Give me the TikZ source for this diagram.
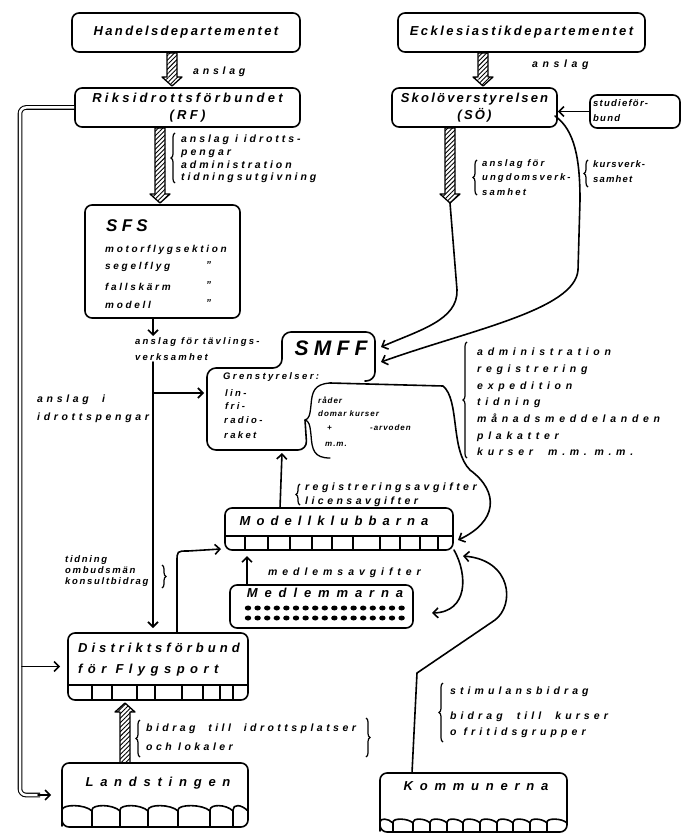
\documentclass[tikz,border=0pt]{standalone}
\usepackage{fontspec}
\setmainfont{Liberation Sans}
\usetikzlibrary{arrows.meta,calc,patterns,patterns.meta,decorations.pathreplacing}
\newcommand{\hand}[3]{\fontsize{#1}{#2}\selectfont\bfseries\itshape\addfontfeatures{LetterSpace=#3}}
\newcommand{\hatcharrow}[2]{%
  \coordinate (ha) at (#1); \coordinate (hb) at (#2);
  \coordinate (hh) at ($(hb)!9pt!(ha)$);
  \draw[hatch] ($(ha)!5pt!90:(hb)$) -- ($(hh)!5pt!90:(hb)$) -- ($(hh)!10pt!90:(hb)$) -- (hb)
    -- ($(hh)!10pt!-90:(hb)$) -- ($(hh)!5pt!-90:(hb)$) -- ($(ha)!5pt!-90:(hb)$) -- cycle;}
\tikzset{
  ln/.style={line width=1.6pt, line cap=round, line join=round},
  box/.style={ln, draw, rounded corners=7pt, inner sep=0pt},
  arr/.style={ln, -{Straight Barb[length=5pt,width=10pt]}},
  hatch/.style={line width=1.3pt, line join=round,
    pattern={Lines[angle=45,distance=3.2pt,line width=0.9pt]}},
  lbl/.style n args={3}{anchor=west, inner sep=0pt, align=left, font=\hand{#1}{#2}{#3}},
  ttl/.style={inner sep=0pt, align=center, font=\hand{13}{17}{#1}},
  ttl/.default=18,
  brc/.style={line width=1.2pt, decorate, decoration={brace, amplitude=4pt}},
  dbl/.style={line width=1.1pt, double, double distance=2.5pt, rounded corners=6pt},
}
\begin{document}
\begin{tikzpicture}[x=1pt,y=-1pt]
\useasboundingbox (0,0) rectangle (687,834);

% ---------- boxes ----------
\node[box, ttl=18, minimum width=228, minimum height=39] (handels) at (186,32.5) {Handelsdepartementet};
\node[box, ttl=25, minimum width=225, minimum height=39] (rf) at (187.5,107.5) {Riksidrottsförbundet\\(RF)};
\node[box, ttl=19, minimum width=247, minimum height=39] (eccl) at (521.5,32.5) {Ecklesiastikdepartementet};
\node[box, ttl=17, minimum width=165, minimum height=39] (sb) at (474.5,107.5) {Skolöverstyrelsen\\(SÖ)};
\node[box, minimum width=90, minimum height=33] (studie) at (635,111.5) {};
\node[lbl={9.5}{15}{13}] (studietxt) at (593,111) {studieför-\\bund};

\node[box, minimum width=155, minimum height=113] (sfs) at (162.5,261.5) {};
\node[lbl={17}{20}{25}] (sfst) at (106,226) {SFS};
\node[lbl={10}{12}{27}] (s1) at (105,250) {motorflygsektion};
\node[lbl={10}{12}{27}] (s2) at (105,267) {segelflyg};
\node[lbl={10}{12}{27}] (s3) at (105,287) {fallskärm};
\node[lbl={10}{12}{27}] (s4) at (105,305) {modell};
\node[lbl={10}{12}{0}] (d2) at (206,265) {"};
\node[lbl={10}{12}{0}] (d3) at (206,285) {"};
\node[lbl={10}{12}{0}] (d4) at (206,303) {"};

% SMFF outline
\draw[ln, rounded corners=9pt] (305,420) -- (307,450) -- (207,450) -- (207,368) -- (282,368)
  -- (282,332) -- (375,332) -- (375,381) -- (365,381);
\node[inner sep=0pt, font=\hand{21}{24}{25}] (smff) at (331,348) {SMFF};
\node[lbl={9.5}{11}{25}] (gren) at (223,377) {Grenstyrelser:};
\node[lbl={9.5}{11}{25}] (g1) at (225,393) {lin-};
\node[lbl={9.5}{11}{25}] (g2) at (225,406) {fri-};
\node[lbl={9.5}{11}{25}] (g3) at (224,420) {radio-};
\node[lbl={9.5}{11}{25}] (g4) at (224,435) {raket};
\draw[ln, line width=1.3pt] (330,383) .. controls (314,384) and (312,392) .. (311,405)
  .. controls (310,415) and (309,419) .. (305,420) .. controls (309,421) and (310,425) .. (311,435)
  .. controls (312,450) and (314,458) .. (330,458);
\node[lbl={8}{9}{12}] (r1) at (318,400) {råder};
\node[lbl={8}{9}{12}] (r2) at (318,414) {domar kurser};
\node[lbl={8}{9}{12}] (r3) at (327,428) {+};
\node[lbl={8}{9}{12}] (r4) at (370,428) {-arvoden};
\node[lbl={8}{9}{12}] (r5) at (325,444) {m.m.};

\node[box, minimum width=228, minimum height=42] (modell) at (339,529) {};
\node[inner sep=0pt, font=\hand{13}{14}{47}] (modelltxt) at (334,521) {Modellklubbarna};
\draw[ln] (225,536) -- (453,536);
\foreach \x in {245,268,290,312,332,353,380,400,420,438} \draw[ln] (\x,536) -- (\x,550);

\node[box, minimum width=183, minimum height=43] (medl) at (321.5,606.5) {};
\node[inner sep=0pt, font=\hand{13}{14}{53}] (medltxt) at (325,593) {Medlemmarna};
\foreach \i in {0,...,16} {
  \fill (248+\i*9.6,608) ellipse (3.2pt and 2.5pt);
  \fill (248+\i*9.6,618) ellipse (3.2pt and 2.5pt);
}

\node[box, minimum width=180, minimum height=67] (dist) at (158,666.5) {};
\node[lbl={13}{14}{31}] (dist1) at (78,648) {Distriktsförbund};
\node[lbl={13}{14}{42}] (dist2) at (78,670) {för  Flygsport};
\draw[ln] (68,685) -- (248,685);
\foreach \x in {92,112,137,155,182,203,220,233} \draw[ln] (\x,685) -- (\x,700);

\node[box, minimum width=186, minimum height=64] (land) at (155,795) {};
\node[inner sep=0pt, font=\hand{13}{14}{52}] (landtxt) at (158,783) {Landstingen};
\foreach \a/\b in {62/92,92/120,120/148,148/178,178/210,210/233,233/248}
  \draw[ln] (\a,826) -- (\a,810) .. controls (\a,804) and (\b-7,804) .. (\b,811);

\node[box, minimum width=187, minimum height=59] (komm) at (473.5,802.5) {};
\node[inner sep=0pt, font=\hand{13}{14}{52}] (kommtxt) at (476,786) {Kommunerna};
\foreach \a/\b in {380/393,393/413,413/430,430/447,447/463,463/480,480/497,497/513,513/530,530/547,547/567}
  \draw[ln] (\a,831) -- (\a,822) .. controls (\a,818) and (\b-5,818) .. (\b,823);

% ---------- hatched arrows ----------
\coordinate (h1a) at (172,53);  \coordinate (h1b) at (172,86);
\coordinate (h2a) at (160,128); \coordinate (h2b) at (160,203);
\coordinate (h3a) at (483,53);  \coordinate (h3b) at (483,86);
\coordinate (h4a) at (450,128); \coordinate (h4b) at (450,203);
\coordinate (h5a) at (125,763); \coordinate (h5b) at (125,703);
\hatcharrow{h1a}{h1b}
\hatcharrow{h2a}{h2b}
\hatcharrow{h3a}{h3b}
\hatcharrow{h4a}{h4b}
\hatcharrow{h5a}{h5b}

% ---------- connectors ----------
\coordinate (sfsout) at (153,319);
\coordinate (sfsend) at (153,336);
\draw[arr] (sfsout) -- (sfsend);
\coordinate (vtop) at (153,362);
\coordinate (vbot) at (153,628);
\draw[arr] (vtop) -- (vbot);
\coordinate (vbr) at (153,393);
\coordinate (smffl) at (204,393);
\draw[arr] (vbr) -- (smffl);

% left double line
\draw[dbl] (rf.west) -- (20,107.5) -- (20,795) -- (40,795);
\draw[arr, shorten >=10pt] (38,795) -- (land.west);
\draw[arr, shorten >=7pt] (22,666.5) -- (dist.west);

% studieforbund -> SB
\draw[arr] (studie.west) -- (studie.west -| sb.east);

% SB paths -> SMFF
\coordinate (smffr1) at (381,347);
\coordinate (smffr2) at (381,362);
\draw[arr] (h4b) -- (457,290) .. controls (458,320) and (420,330) .. (smffr1);
\coordinate (sbr) at (555,116);
\draw[arr] (sbr) .. controls (575,130) and (580,160) .. (580,200) -- (578,270)
  .. controls (575,310) and (470,330) .. (smffr2);

% SMFF -> Modellklubbarna right
\coordinate (modr1) at (458,540);
\draw[arr] (330,383) -- (443,386) .. controls (460,400) and (450,450) .. (470,470)
  .. controls (500,492) and (497,522) .. (modr1);

% Modellklubbarna -> SMFF
\coordinate (modtop) at (280,508);
\coordinate (smffb) at (282,453);
\draw[arr] (modtop) -- (smffb);

% Medlemmarna -> Modellklubbarna
\coordinate (medtop) at (247,585);
\coordinate (modbot) at (247,556);
\draw[arr] (medtop) -- (modbot);

% Modellklubbarna -> Medlemmarna
\coordinate (modr2) at (454,550);
\coordinate (medr) at (432,613);
\draw[arr] (modr2) .. controls (468,575) and (468,612) .. (medr);

% Kommunerna -> Modellklubbarna
\coordinate (kommtop) at (412,773);
\coordinate (modr3) at (463,556);
\draw[arr] (kommtop) -- (417,673) -- (495,620) .. controls (515,605) and (512,560) .. (modr3);

% Distrikt -> Modellklubbarna
\coordinate (disttop) at (177,633);
\coordinate (modl) at (221,549);
\draw[arr] (disttop) -- (177,562) .. controls (177,551) .. (188,551) -- (modl);

% ---------- labels ----------
\node[lbl={10.5}{12}{36}] (l1) at (193,72) {anslag};
\node[lbl={10.5}{12}{44}] (l2) at (532,65) {anslag};
\draw[brc] (175,183) -- (175,133);
\node[lbl={10.5}{12.7}{28}] (l3) at (181,159) {anslag i idrotts-\\pengar\\administration\\tidningsutgivning};
\draw[brc] (477,195) -- (477,160);
\node[lbl={9.5}{14.5}{22}] (l4) at (482,177.5) {anslag för\\ungdomsverk-\\samhet};
\draw[brc] (588,187) -- (588,160);
\node[lbl={9.5}{15}{12}] (l5) at (593,172) {kursverk-\\samhet};
\node[lbl={9.5}{16}{23}] (l6) at (135,349) {anslag för tävlings-\\verksamhet};
\node[lbl={10.5}{18}{35}] (l7) at (37,409) {anslag\ \ i\\idrottspengar};
\draw[brc] (467,458) -- (467,342);
\node[lbl={10.5}{16.7}{45}] (l8) at (477,402) {administration\\registrering\\expedition\\tidning\\månadsmeddelanden\\plakatter\\kurser\ \ m.m.\ m.m.};
\draw[brc] (300,505) -- (300,484);
\node[lbl={10.5}{14}{33}] (l9) at (305,495) {registreringsavgifter\\licensavgifter};
\node[lbl={10.5}{12}{47}] (l10) at (268,573) {medlemsavgifter};
\node[lbl={9.5}{11}{18}] (l11) at (65,571) {tidning\\ombudsmän\\konsultbidrag};
\draw[brc] (162,565) -- (162,588);
\draw[brc] (140,757) -- (140,720);
\node[lbl={10.5}{19}{33}] (l12) at (146,737.5) {bidrag\ \ till\ \ idrottsplatser\\och lokaler};
\draw[brc] (366,718) -- (366,757);
\draw[brc] (443,742) -- (443,683);
\node[lbl={10.5}{12}{39}] (l13) at (450,692) {stimulansbidrag};
\node[lbl={10.5}{12}{39}] (l14) at (450,717) {bidrag\ \ till\ \ kurser};
\node[lbl={10.5}{12}{39}] (l15) at (450,733) {o fritidsgrupper};
\end{tikzpicture}
\end{document}
